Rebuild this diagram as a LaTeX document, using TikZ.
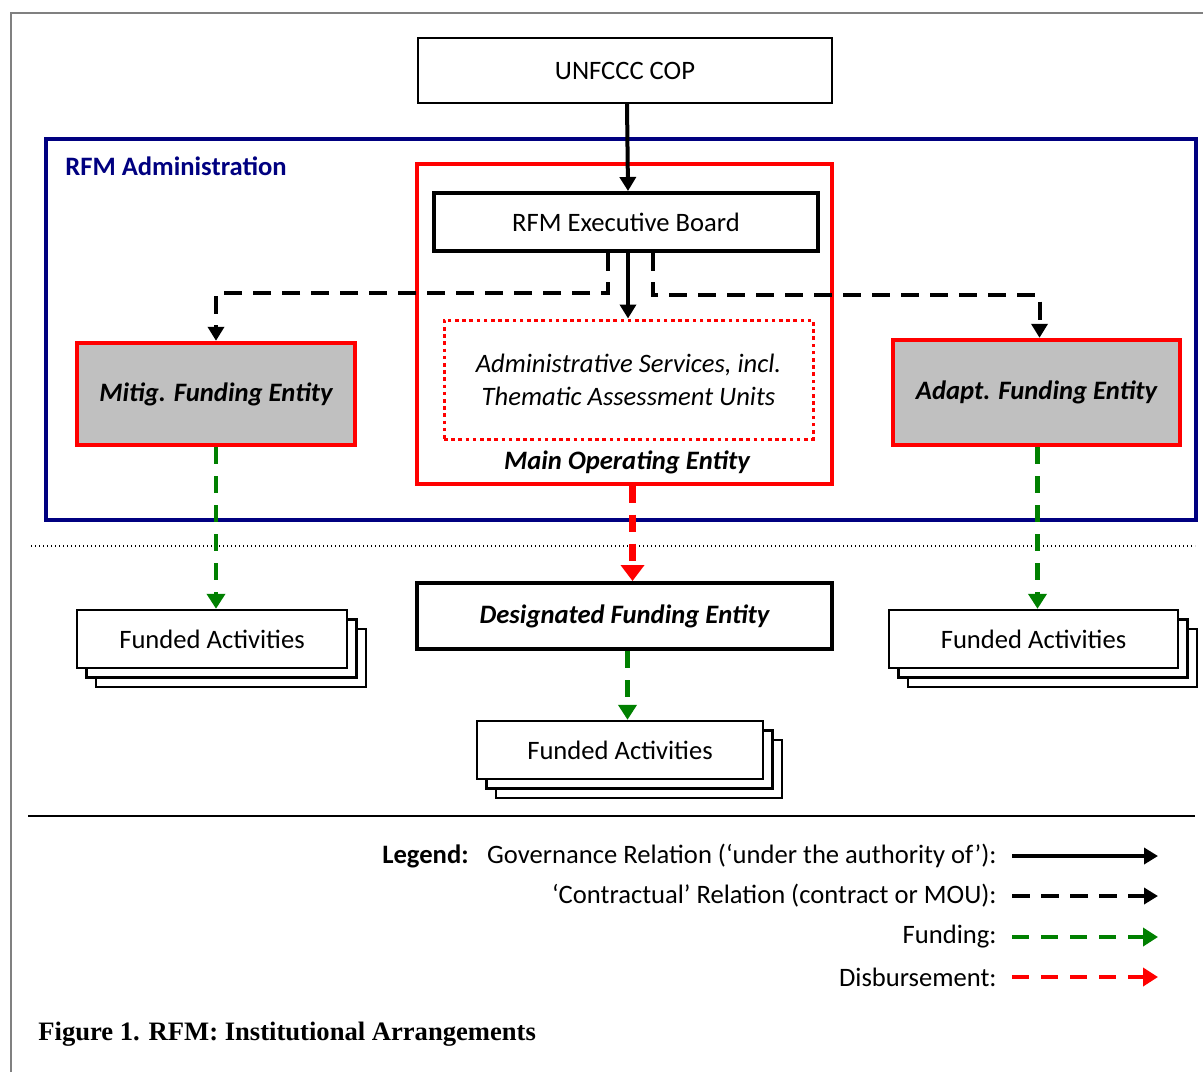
\documentclass[tikz,border=0pt]{standalone}
\usepackage{fontspec}
\setmainfont{Carlito}
\newfontfamily\capfont{Liberation Serif}
\usetikzlibrary{arrows.meta,shadows}
\definecolor{rfmnavy}{RGB}{0,0,128}
\definecolor{entgray}{RGB}{192,192,192}
\definecolor{fundgreen}{RGB}{0,128,0}
\begin{document}
\begin{tikzpicture}[x=0.5pt,y=-0.5pt,
  txt/.style={font=\fontsize{13.3}{16}\selectfont,inner sep=0pt},
  box/.style={txt,draw,line width=0.9pt,fill=white},
  thickbox/.style={box,line width=2pt},
  entity/.style={box,draw=red,line width=2.2pt,fill=entgray,font=\fontsize{13.3}{16}\selectfont\bfseries\itshape},
  stack/.style={box,line width=1.2pt,copy shadow={shadow xshift=9.5pt,shadow yshift=-9.5pt},copy shadow={shadow xshift=4.75pt,shadow yshift=-4.75pt}},
  gov/.style={line width=2pt,-{Triangle[length=7pt,width=8pt]}},
  contract/.style={gov,dash pattern=on 9pt off 5.5pt},
  fund/.style={line width=2.2pt,fundgreen,dash pattern=on 8.5pt off 6pt,-{Triangle[length=7.5pt,width=9pt]}},
  disb/.style={fund,red}]
\useasboundingbox (0,0) rectangle (1203,1072);
\draw[gray,line width=1pt] (11,1072) -- (11,13) -- (1203,13);
% administration
\draw[rfmnavy,line width=2.2pt] (46,139) rectangle (1196,520);
\node[txt,anchor=west,text=rfmnavy,font=\fontsize{13.3}{16}\selectfont\bfseries] (admlabel) at (65,166) {RFM Administration};
\node[box,minimum width=207.5pt,minimum height=160pt,draw=red,line width=1.6pt,fill=none] (moe) at (624.5,324) {};
\node[txt,font=\fontsize{13.3}{16}\selectfont\bfseries\itshape] (moelabel) at (627,462) {Main Operating Entity};
\node[thickbox,minimum width=207pt,minimum height=32.5pt,line width=1pt] (cop) at (625,70.5) {UNFCCC COP};
\node[thickbox,minimum width=192pt,minimum height=29pt] (board) at (626,222) {RFM Executive Board};
\node[box,minimum width=184.5pt,minimum height=59.5pt,draw=red,line width=1.5pt,dash pattern=on 1.8pt off 1.8pt,align=center,font=\fontsize{13.3}{16.5}\selectfont\itshape] (services) at (628.5,379.5) {Administrative Services, incl.\\Thematic Assessment Units};
\node[entity,minimum width=139pt,minimum height=51pt] (mitig) at (216,394) {Mitig. Funding Entity};
\node[entity,minimum width=143.5pt,minimum height=52.5pt] (adapt) at (1036.5,392.5) {Adapt. Funding Entity};
% funding side
\draw[line width=0.6pt,dash pattern=on 0.6pt off 1.4pt] (31,546) -- (1195,546);
\node[thickbox,minimum width=207.5pt,minimum height=33pt,font=\fontsize{13.3}{16}\selectfont\bfseries\itshape] (dfe) at (624.5,616) {Designated Funding Entity};
\node[stack,minimum width=135pt,minimum height=29pt] (fundL) at (212,639) {Funded Activities};
\node[stack,minimum width=144.5pt,minimum height=29pt] (fundR) at (1033.5,639) {Funded Activities};
\node[stack,minimum width=143pt,minimum height=29pt] (fundC) at (620,750) {Funded Activities};
% relations
\draw[gov] ([xshift=1pt]cop.south) -- ([xshift=1pt]board.north);
\draw[gov] ([xshift=1pt]board.south) -- ([xshift=1pt]board.south |- services.north);
\draw[contract] ([xshift=-9pt]board.south) -- ++(0,40) -| (mitig.north);
\draw[contract] ([xshift=13.5pt]board.south) -- ++(0,42) -| ([xshift=1.5pt]adapt.north);
\draw[fund] (mitig.south) -- (mitig.south |- fundL.north);
\draw[fund] ([xshift=0.5pt]adapt.south) -- ([xshift=0.5pt]adapt.south |- fundR.north);
\draw[fund] ([xshift=1.5pt]dfe.south) -- ([xshift=1.5pt]dfe.south |- fundC.north);
\draw[disb,line width=3.3pt,-{Triangle[length=8pt,width=11.5pt]}] ([xshift=4pt]moe.south) -- ([xshift=4pt]moe.south |- dfe.north);
% legend
\draw[line width=0.8pt] (28,816) -- (1195,816);
\node[txt,anchor=east,font=\fontsize{13.3}{16}\selectfont\bfseries] (leg) at (469,856) {Legend:};
\node[txt,anchor=east] (l1) at (997,856) {Governance Relation (‘under the authority of’):};
\node[txt,anchor=east] (l2) at (997,896) {‘Contractual’ Relation (contract or MOU):};
\node[txt,anchor=east] (l3) at (997,937) {Funding:};
\node[txt,anchor=east] (l4) at (997,977) {Disbursement:};
\coordinate (a1) at (1012,856); \coordinate (b1) at (1158,856);
\coordinate (a2) at (1012,896); \coordinate (b2) at (1158,896);
\coordinate (a3) at (1012,937); \coordinate (b3) at (1158,937);
\coordinate (a4) at (1012,977); \coordinate (b4) at (1158,977);
\draw[gov] (a1) -- (b1);
\draw[contract] (a2) -- (b2);
\draw[fund] (a3) -- (b3);
\draw[disb] (a4) -- (b4);
\node[txt,anchor=west,font=\capfont\fontsize{13.3}{16}\selectfont\bfseries] (caption) at (38,1034) {Figure 1. RFM: Institutional Arrangements};
\end{tikzpicture}
\end{document}
